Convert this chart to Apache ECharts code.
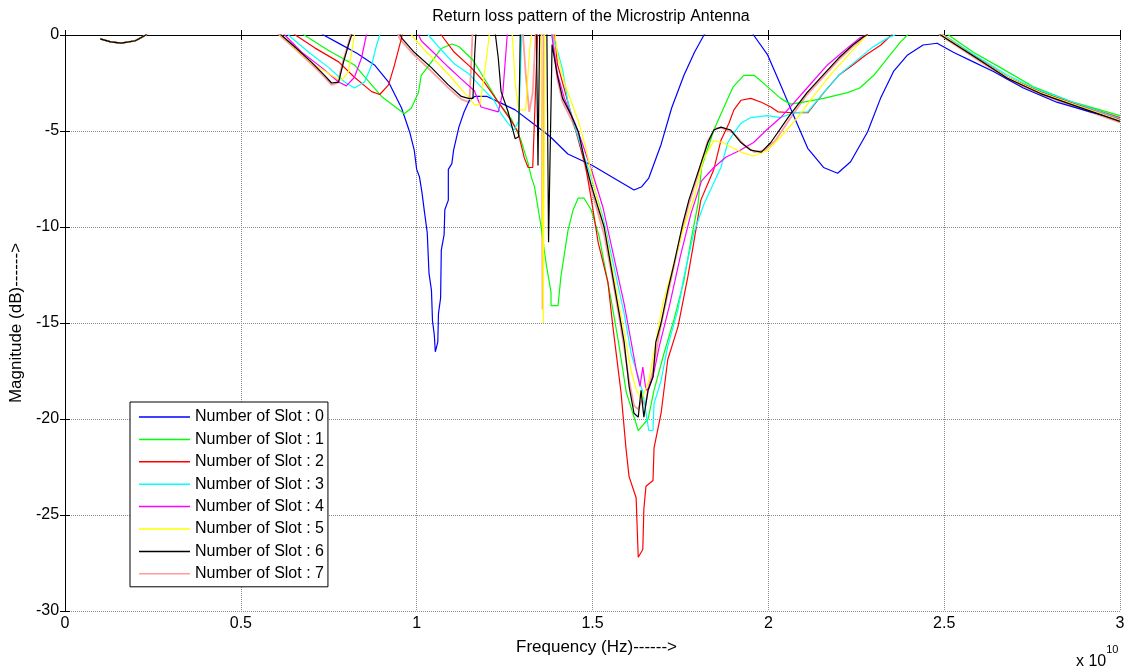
<!DOCTYPE html>
<html>
<head>
<meta charset="utf-8">
<title>Return loss pattern</title>
<script src="https://cdn.jsdelivr.net/npm/echarts@6/dist/echarts.min.js"></script>
<style>
  html, body { margin: 0; padding: 0; background: #fff; }
  #echart { width: 1131px; height: 671px; }
</style>
</head>
<body>
<div id="echart"></div>
<script>
// frequency in units of 1e10 Hz, magnitude in dB (values > 0 are cut off by the axis)
const slotNames = ["Number of Slot : 0", "Number of Slot : 1", "Number of Slot : 2", "Number of Slot : 3",
  "Number of Slot : 4", "Number of Slot : 5", "Number of Slot : 6", "Number of Slot : 7"];
const slotColors = ["#0000ff", "#00ff00", "#ff0000", "#00ffff", "#ff00ff", "#ffff00", "#000000", "#ff9c9c"];

const xTicks = [0, 0.5, 1, 1.5, 2, 2.5, 3];
const yTicks = [-30, -25, -20, -15, -10, -5, 0];

// the small dip at the low end is common to every curve
const lowBand = [[0.1,-0.2],[0.13,-0.36],[0.16,-0.42],[0.2,-0.3],[0.23,0],[0.25,0.6]];

const slot0 = [...lowBand,
  [0.7,0.6],[0.735,0],[0.78,-0.45],[0.83,-0.95],[0.88,-1.56],[0.92,-2.45],[0.957,-3.8],[0.98,-5.05],
  [0.993,-6.0],[1.0,-7.0],[1.008,-7.4],[1.015,-8.2],[1.022,-9.2],[1.03,-10.3],[1.035,-12.4],[1.042,-13.3],
  [1.045,-14.9],[1.05,-15.6],[1.053,-16.5],[1.06,-16.0],[1.062,-14.5],[1.068,-13.7],[1.07,-11.2],[1.078,-10.4],
  [1.08,-9.1],[1.09,-8.6],[1.09,-7.0],[1.1,-6.7],[1.105,-6.0],[1.12,-4.8],[1.135,-4.0],[1.15,-3.4],[1.165,-3.2],
  [1.2,-3.2],[1.24,-3.55],[1.28,-3.9],[1.33,-4.6],[1.38,-5.3],[1.43,-6.2],[1.5,-6.8],[1.56,-7.45],[1.618,-8.07],
  [1.64,-7.9],[1.66,-7.45],[1.695,-5.7],[1.725,-3.8],[1.76,-2.1],[1.79,-0.9],[1.817,0],[1.84,0.6],[1.94,0.6],
  [1.958,0],[1.998,-1.04],[2.035,-2.6],[2.072,-4.2],[2.112,-5.9],[2.157,-6.9],[2.197,-7.2],[2.234,-6.6],
  [2.282,-5.05],[2.319,-3.3],[2.356,-1.9],[2.396,-1.04],[2.44,-0.52],[2.48,-0.43],[2.526,-0.9],[2.583,-1.4],
  [2.64,-1.9],[2.725,-2.76],[2.82,-3.5],[2.915,-4.0],[3.0,-4.4]];

const slot1 = [...lowBand,
  [0.65,0.6],[0.68,0],[0.747,-0.78],[0.823,-1.56],[0.9,-3.2],[0.965,-4.1],[0.985,-3.8],[1.005,-3.0],
  [1.013,-2.1],[1.05,-1.2],[1.07,-0.7],[1.1,-0.47],[1.12,-0.6],[1.16,-1.3],[1.2,-2.5],[1.232,-3.5],[1.27,-4.4],
  [1.297,-5.5],[1.317,-6.7],[1.326,-7.4],[1.335,-7.9],[1.354,-10.0],[1.368,-11.9],[1.382,-13.4],[1.382,-14.1],
  [1.402,-14.1],[1.41,-12.6],[1.43,-10.2],[1.445,-9.1],[1.459,-8.5],[1.476,-8.5],[1.496,-9.1],[1.519,-10.5],
  [1.553,-13.8],[1.573,-15.9],[1.596,-18.6],[1.63,-20.6],[1.658,-20.0],[1.675,-18.5],[1.703,-16.6],[1.732,-14.8],
  [1.76,-12.8],[1.78,-10.7],[1.8,-8.8],[1.81,-6.9],[1.845,-4.95],[1.874,-3.75],[1.9,-2.7],[1.93,-2.1],[1.96,-2.1],
  [1.998,-2.7],[2.035,-3.3],[2.063,-3.6],[2.1,-3.5],[2.157,-3.3],[2.225,-3.0],[2.26,-2.76],[2.3,-2.1],[2.339,-1.2],
  [2.376,-0.36],[2.396,0],[2.42,0.6],[2.49,0.6],[2.512,0],[2.583,-0.9],[2.66,-1.7],[2.754,-2.7],[2.867,-3.5],[3.0,-4.2]];

const slot2 = [...lowBand,
  [0.62,0.6],[0.655,0],[0.71,-0.67],[0.778,-1.4],[0.823,-2.2],[0.872,-2.95],[0.895,-3.1],[0.92,-2.6],[0.937,-1.56],
  [0.957,-0.15],[0.965,0.6],[1.04,0.6],[1.07,0],[1.107,-0.9],[1.155,-1.7],[1.192,-2.45],[1.232,-3.5],[1.27,-4.5],
  [1.288,-5.05],[1.306,-6.4],[1.317,-6.9],[1.33,-6.9],[1.345,0.6],[1.39,0.6],[1.4,-1.5],[1.43,-3.5],[1.46,-5.5],
  [1.48,-6.8],[1.497,-8.6],[1.516,-10.8],[1.544,-12.9],[1.558,-15.2],[1.581,-18.6],[1.595,-21.5],[1.604,-23.0],
  [1.624,-24.1],[1.63,-27.2],[1.643,-26.8],[1.646,-24.7],[1.652,-23.5],[1.672,-23.2],[1.675,-21.5],[1.695,-19.7],
  [1.714,-16.9],[1.743,-15.2],[1.771,-12.6],[1.788,-10.8],[1.808,-8.6],[1.845,-7.0],[1.865,-5.5],[1.888,-4.6],
  [1.902,-3.9],[1.922,-3.4],[1.95,-3.3],[1.98,-3.5],[2.007,-3.75],[2.027,-4.0],[2.07,-4.05],[2.112,-4.05],
  [2.16,-2.95],[2.2,-2.1],[2.24,-1.56],[2.277,-1.04],[2.32,-0.52],[2.35,0],[2.38,0.6],[2.48,0.6],[2.498,0],
  [2.583,-1.04],[2.68,-2.2],[2.774,-2.95],[2.867,-3.55],[3.0,-4.3]];

const slot3 = [...lowBand,
  [0.6,0.6],[0.635,0],[0.693,-0.9],[0.75,-1.7],[0.795,-2.45],[0.823,-2.76],[0.852,-2.45],[0.872,-1.56],
  [0.886,-0.52],[0.895,0],[0.91,0.6],[1.0,0.6],[1.033,0],[1.07,-0.78],[1.107,-1.5],[1.147,-2.0],[1.183,-2.7],
  [1.22,-3.4],[1.24,-4.1],[1.26,-4.6],[1.277,-4.95],[1.29,-4.5],[1.3,0.6],[1.37,0.6],[1.39,-0.3],[1.4,-0.8],
  [1.415,-1.8],[1.43,-3.5],[1.45,-4.8],[1.467,-5.8],[1.496,-7.4],[1.53,-9.5],[1.553,-11.4],[1.59,-14.5],
  [1.61,-16.6],[1.63,-17.8],[1.643,-18.6],[1.66,-20.6],[1.672,-20.6],[1.675,-19.2],[1.695,-18.0],[1.714,-16.2],
  [1.743,-14.3],[1.76,-12.6],[1.788,-10.3],[1.817,-8.8],[1.865,-6.9],[1.885,-5.6],[1.902,-5.1],[1.922,-4.6],
  [1.95,-4.3],[1.998,-4.2],[2.035,-4.3],[2.072,-4.05],[2.112,-4.0],[2.16,-2.95],[2.2,-2.1],[2.246,-1.4],
  [2.294,-0.67],[2.34,-0.15],[2.36,0],[2.38,0.6],[2.48,0.6],[2.498,0],[2.583,-1.0],[2.68,-2.1],[2.774,-2.9],
  [2.867,-3.5],[3.0,-4.35]];

const slot4 = [...lowBand,
  [0.59,0.6],[0.625,0],[0.673,-0.9],[0.73,-1.7],[0.778,-2.45],[0.8,-2.65],[0.823,-2.2],[0.843,-1.2],[0.857,0],
  [0.87,0.6],[0.99,0.6],[1.013,-0.3],[1.05,-0.95],[1.09,-1.67],[1.127,-2.3],[1.164,-2.9],[1.183,-3.75],
  [1.212,-3.9],[1.232,-4.0],[1.245,-3.0],[1.26,0.6],[1.38,0.6],[1.39,-0.8],[1.4,-2.0],[1.42,-3.3],[1.45,-4.6],
  [1.47,-5.6],[1.5,-7.2],[1.53,-9.0],[1.56,-11.5],[1.59,-14.0],[1.61,-16.0],[1.625,-17.5],[1.635,-18.3],
  [1.643,-17.3],[1.652,-18.5],[1.66,-18.4],[1.672,-17.8],[1.69,-16.2],[1.72,-14.0],[1.75,-11.5],[1.78,-9.3],
  [1.81,-7.6],[1.845,-6.9],[1.88,-6.35],[1.92,-6.0],[1.958,-5.6],[1.995,-4.95],[2.035,-4.3],[2.072,-3.55],
  [2.11,-2.76],[2.168,-1.56],[2.225,-0.67],[2.26,-0.15],[2.28,0],[2.3,0.6],[2.48,0.6],[2.495,0],[2.583,-1.1],
  [2.68,-2.2],[2.774,-3.0],[2.867,-3.6],[3.0,-4.4]];

const slot5 = [...lowBand,
  [0.58,0.6],[0.615,0],[0.655,-0.7],[0.71,-1.56],[0.767,-2.2],[0.787,-2.35],[0.806,-1.9],[0.815,-0.9],[0.823,0],
  [0.84,0.6],[0.96,0.6],[0.985,0],[1.022,-0.78],[1.062,-1.5],[1.098,-2.2],[1.135,-3.0],[1.155,-3.4],[1.165,-3.65],
  [1.18,-3.6],[1.2,-1.0],[1.21,0.6],[1.27,0.6],[1.28,-2.5],[1.29,-3.9],[1.31,-3.9],[1.32,-1.0],[1.33,0.6],
  [1.355,0.6],[1.36,-15.0],[1.364,0.6],[1.39,0.6],[1.4,-1.0],[1.42,-2.5],[1.44,-3.5],[1.46,-4.5],[1.48,-5.8],
  [1.5,-7.5],[1.52,-9.0],[1.54,-10.5],[1.57,-13.5],[1.59,-15.5],[1.61,-17.5],[1.625,-18.5],[1.64,-19.0],
  [1.65,-18.5],[1.66,-18.0],[1.68,-16.0],[1.7,-14.0],[1.73,-12.0],[1.76,-10.0],[1.79,-8.4],[1.815,-6.5],
  [1.845,-5.5],[1.87,-5.6],[1.9,-5.9],[1.93,-6.15],[1.958,-6.3],[1.998,-6.0],[2.035,-5.3],[2.083,-4.3],
  [2.128,-3.2],[2.18,-2.0],[2.23,-1.0],[2.27,-0.2],[2.28,0],[2.3,0.6],[2.48,0.6],[2.495,0],[2.583,-1.1],
  [2.68,-2.2],[2.774,-3.0],[2.867,-3.6],[3.0,-4.45]];

const slot6 = [...lowBand,
  [0.58,0.6],[0.615,0],[0.652,-0.6],[0.7,-1.4],[0.738,-2.1],[0.758,-2.5],[0.778,-2.45],[0.792,-1.4],[0.806,-0.52],
  [0.815,0],[0.83,0.6],[0.94,0.6],[0.957,-0.15],[0.993,-0.9],[1.042,-1.7],[1.09,-2.6],[1.127,-3.2],[1.147,-3.3],
  [1.16,-3.3],[1.165,-1.0],[1.17,0.6],[1.22,0.6],[1.232,-1.2],[1.24,-2.95],[1.26,-4.0],[1.28,-5.4],[1.29,-5.3],
  [1.295,0.6],[1.34,0.6],[1.345,-6.8],[1.35,0.6],[1.37,0.6],[1.375,-10.8],[1.385,-0.5],[1.4,-2.1],[1.415,-3.3],
  [1.44,-4.2],[1.46,-5.05],[1.476,-6.4],[1.496,-7.8],[1.516,-9.0],[1.533,-10.0],[1.553,-12.1],[1.573,-14.2],
  [1.59,-16.0],[1.604,-18.3],[1.618,-19.7],[1.63,-19.9],[1.638,-18.5],[1.646,-19.9],[1.658,-18.5],[1.672,-17.8],
  [1.68,-16.0],[1.695,-15.0],[1.714,-13.3],[1.732,-11.9],[1.757,-9.8],[1.774,-8.6],[1.808,-6.7],[1.828,-5.6],
  [1.845,-4.95],[1.865,-4.8],[1.893,-4.95],[1.922,-5.6],[1.95,-6.0],[1.98,-6.1],[2.007,-5.6],[2.06,-4.2],
  [2.11,-3.0],[2.16,-2.0],[2.2,-1.2],[2.24,-0.52],[2.27,-0.1],[2.28,0],[2.3,0.6],[2.47,0.6],[2.49,0],
  [2.583,-1.1],[2.68,-2.25],[2.774,-3.05],[2.867,-3.65],[3.0,-4.5]];

const slot7 = [...lowBand,
  [0.575,0.6],[0.61,0],[0.65,-0.65],[0.7,-1.5],[0.738,-2.2],[0.758,-2.6],[0.775,-2.5],[0.79,-1.4],[0.805,-0.5],
  [0.812,0],[0.83,0.6],[0.935,0.6],[0.952,-0.2],[0.99,-1.0],[1.04,-1.85],[1.09,-2.75],[1.127,-3.35],[1.15,-3.5],
  [1.155,-1.5],[1.16,0.6],[1.3,0.6],[1.31,-2.0],[1.32,-4.0],[1.33,-3.0],[1.34,0.6],[1.355,0.6],[1.358,-14.3],
  [1.362,0.6],[1.385,0.6],[1.39,-0.6],[1.4,-2.3],[1.415,-3.5],[1.44,-4.4],[1.46,-5.3],[1.476,-6.6],[1.496,-8.0],
  [1.516,-9.3],[1.533,-10.4],[1.553,-12.3],[1.573,-14.4],[1.59,-16.3],[1.604,-18.0],[1.618,-19.3],[1.63,-19.5],
  [1.64,-19.0],[1.65,-19.3],[1.66,-18.3],[1.672,-17.5],[1.69,-15.5],[1.714,-13.5],[1.732,-12.0],[1.757,-10.0],
  [1.774,-8.8],[1.808,-6.8],[1.828,-5.5],[1.85,-4.85],[1.87,-4.85],[1.9,-5.1],[1.93,-5.7],[1.96,-6.1],[1.99,-6.0],
  [2.02,-5.5],[2.06,-4.4],[2.11,-3.1],[2.16,-2.1],[2.2,-1.3],[2.24,-0.6],[2.27,-0.15],[2.28,0],[2.3,0.6],
  [2.47,0.6],[2.488,0],[2.583,-1.15],[2.68,-2.3],[2.774,-3.1],[2.867,-3.7],[3.0,-4.55]];

const slotData = [slot0, slot1, slot2, slot3, slot4, slot5, slot6, slot7];

const echart = echarts.init(document.getElementById("echart"));
const plainFont = "'Liberation Sans', Arial, sans-serif";

const gridLine = { show: true, lineStyle: { color: "#8c8c8c", type: [1, 1], width: 1 } };
const blackLine = { show: true, lineStyle: { color: "#000", width: 1 } };
const inTick = { show: true, inside: true, length: 5, lineStyle: { color: "#000" } };

const series = slotData.map((data, i) => ({
  name: slotNames[i],
  type: "line",
  data: data,
  symbol: "none",
  clip: true,
  z: i === 7 ? 1 : 2,
  color: slotColors[i],
  lineStyle: { width: i === 7 ? 1.8 : 1.2, color: slotColors[i] },
  animation: false
}));

const option = {
  animation: false,
  backgroundColor: "#fff",
  grid: { left: 63, right: 11, top: 35, bottom: 60 },
  legend: {
    orient: "vertical",
    left: 130,
    top: 402,
    padding: [7, 4, 5, 9],
    icon: "rect",
    itemWidth: 51,
    itemHeight: 1.5,
    itemGap: 6.4,
    backgroundColor: "#fff",
    borderColor: "#000",
    borderWidth: 1,
    borderRadius: 0,
    textStyle: { fontFamily: plainFont, fontSize: 16, lineHeight: 16, color: "#000" },
    data: slotNames
  },
  xAxis: [
    {
      type: "value", min: xTicks[0], max: xTicks[xTicks.length - 1], interval: 0.5,
      axisLine: blackLine, axisTick: inTick, splitLine: gridLine,
      axisLabel: { color: "#000", fontFamily: plainFont, fontSize: 16, margin: 5 },
      name: "Frequency (Hz)------>", nameLocation: "middle", nameGap: 28,
      nameTextStyle: { color: "#000", fontFamily: plainFont, fontSize: 17, padding: [0, 0, 0, 8] }
    },
    {
      type: "value", position: "top", min: 0, max: 3, interval: 0.5,
      axisLine: blackLine, axisTick: inTick, splitLine: { show: false }, axisLabel: { show: false }
    }
  ],
  yAxis: [
    {
      type: "value", min: yTicks[0], max: yTicks[yTicks.length - 1], interval: 5,
      axisLine: blackLine, axisTick: inTick, splitLine: gridLine,
      axisLabel: { color: "#000", fontFamily: plainFont, fontSize: 16, margin: 6 },
      name: "Magnitude (dB)------>", nameLocation: "middle", nameGap: 37,
      nameTextStyle: { color: "#000", fontFamily: plainFont, fontSize: 17 }
    },
    {
      type: "value", position: "right", min: -30, max: 0, interval: 5,
      axisLine: blackLine, axisTick: inTick, splitLine: { show: false }, axisLabel: { show: false }
    }
  ],
  graphic: [
    {
      type: "text", x: 591, y: 17,
      style: { text: "Return loss pattern of the Microstrip Antenna", fill: "#000",
        font: "16px " + plainFont, textAlign: "center", textVerticalAlign: "middle" }
    },
    {
      type: "text", left: 1076, top: 644,
      style: {
        text: "{a|x 10}{b|10}",
        rich: {
          a: { fontFamily: plainFont, fontSize: 16, color: "#000", padding: [10, 0, 0, 0] },
          b: { fontFamily: plainFont, fontSize: 11, color: "#000", verticalAlign: "top" }
        }
      }
    }
  ],
  series: series
};

echart.setOption(option);
</script>
</body>
</html>
